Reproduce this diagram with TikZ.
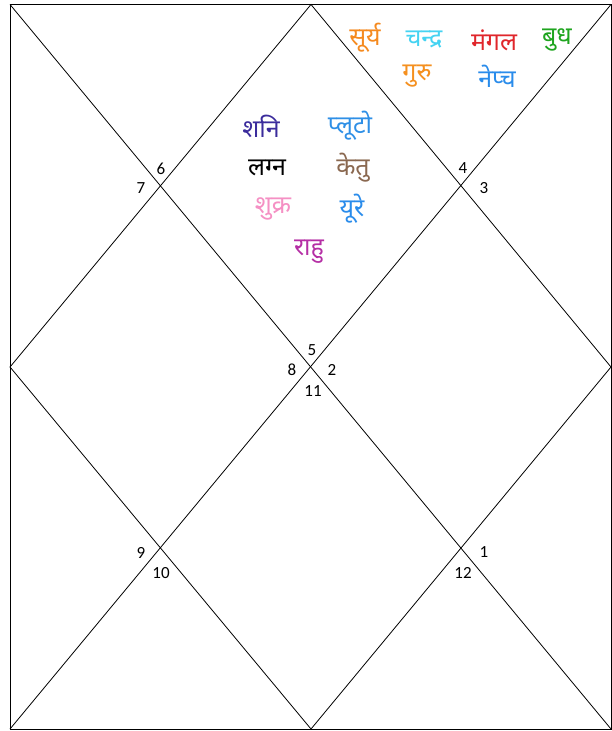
\documentclass[tikz,border=0pt]{standalone}
\usepackage{fontspec}
\setmainfont{Carlito}
\newfontfamily\deva[Script=Devanagari]{Noto Sans}
\definecolor{cSun}{HTML}{F58A1F}
\definecolor{cMoon}{HTML}{45D3F2}
\definecolor{cMars}{HTML}{E0262B}
\definecolor{cMerc}{HTML}{1FA51F}
\definecolor{cJup}{HTML}{F5901F}
\definecolor{cNep}{HTML}{2A8CEB}
\definecolor{cSat}{HTML}{3B2C9C}
\definecolor{cPlu}{HTML}{2E8FE6}
\definecolor{cKet}{HTML}{8A6850}
\definecolor{cVen}{HTML}{F590C4}
\definecolor{cUra}{HTML}{2A8CEB}
\definecolor{cRah}{HTML}{B52FA5}
\tikzset{
  num/.style={font=\fontsize{17}{19}\selectfont, inner sep=0pt},
  planet/.style={font=\deva\fontsize{25}{28}\selectfont, inner sep=0pt},
  edge/.style={line width=0.8pt, black}
}
\begin{document}
\begin{tikzpicture}[x=1pt,y=-1pt]
\useasboundingbox (0,0) rectangle (612,731);
\fill[white] (0,0) rectangle (612,731);
\coordinate (tl) at (10,4.5);
\coordinate (tr) at (611,4.5);
\coordinate (bl) at (10,729);
\coordinate (br) at (611,729);
\coordinate (tm) at (311,4.5);
\coordinate (bm) at (311,729);
\coordinate (lm) at (10,367);
\coordinate (rm) at (611,367);
\draw[edge] (tl) -- (tr) -- (br) -- (bl) -- cycle;
\draw[edge] (tl) -- (br);
\draw[edge] (tr) -- (bl);
\draw[edge] (tm) -- (rm) -- (bm) -- (lm) -- cycle;
% house numbers
\node[num] (n6) at (161,169) {6};
\node[num] (n7) at (141,188) {7};
\node[num] (n4) at (463,168) {4};
\node[num] (n3) at (484,188) {3};
\node[num] (n5) at (312,350) {5};
\node[num] (n8) at (292,370) {8};
\node[num] (n2) at (332,370) {2};
\node[num] (n11) at (313,391) {11};
\node[num] (n9) at (141,553) {9};
\node[num] (n10) at (161,573) {10};
\node[num] (n1) at (484,552) {1};
\node[num] (n12) at (463,573) {12};
% planets
\node[planet, text=cSun] (sun) at (365,38) {सूर्य};
\node[planet, text=cMoon] (moon) at (424,40) {चन्द्र};
\node[planet, text=cMars] (mars) at (494,40) {मंगल};
\node[planet, text=cMerc] (merc) at (557,40) {बुध};
\node[planet, text=cJup] (jup) at (417,76) {गुरु};
\node[planet, text=cNep] (nep) at (497,76) {नेप्च};
\node[planet, text=cSat] (sat) at (261,126) {शनि};
\node[planet, text=cPlu] (plu) at (350,126) {प्लूटो};
\node[planet, text=black] (lag) at (267,168) {लग्न};
\node[planet, text=cKet] (ket) at (353,168) {केतु};
\node[planet, text=cVen] (ven) at (273,209) {शुक्र};
\node[planet, text=cUra] (ura) at (352,209) {यूरे};
\node[planet, text=cRah] (rah) at (309,252) {राहु};
\end{tikzpicture}
\end{document}
